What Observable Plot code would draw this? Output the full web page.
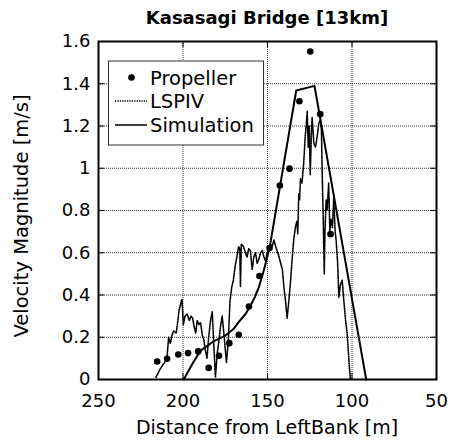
<!DOCTYPE html>
<html>
<head>
<meta charset="utf-8">
<script src="https://cdn.jsdelivr.net/npm/d3@7"></script>
<script src="https://cdn.jsdelivr.net/npm/@observablehq/plot@0.6"></script>
</head>
<body style="margin:0">
<div id="chart" style="position:relative;width:450px;height:441px"></div>
<script>
const title = "Kasasagi Bridge [13km]";
const xLabel = "Distance from LeftBank [m]";
const yLabel = "Velocity Magnitude [m/s]";
const xTicks = [250, 200, 150, 100, 50];
const yTicks = [0, 0.2, 0.4, 0.6, 0.8, 1, 1.2, 1.4, 1.6];
const seriesNames = ["Propeller", "LSPIV", "Simulation"];

// Propeller measurements [distance, velocity]
const propeller = [
  [215.3, 0.085], [209.4, 0.098], [202.8, 0.118], [197.0, 0.125], [191.0, 0.133],
  [184.8, 0.055], [178.7, 0.112], [172.6, 0.172], [167.0, 0.212], [161.0, 0.345],
  [154.8, 0.49], [148.8, 0.622], [142.7, 0.918], [137.0, 0.998], [131.1, 1.317],
  [124.7, 1.553], [118.8, 1.256], [112.7, 0.688]
];

// LSPIV profile [distance, velocity]
const lspiv = [
  [216, 0.01], [213.5, 0.05], [211, 0.08], [209.5, 0.10], [208.5, 0.2], [207.5, 0.17],
  [206.5, 0.21], [205.5, 0.23], [204, 0.22], [203, 0.28], [202.3, 0.33], [201.3, 0.36],
  [200.6, 0.38], [199.8, 0.26], [198.8, 0.30], [197.6, 0.31], [196.3, 0.28], [195.2, 0.30],
  [194.3, 0.29], [193.4, 0.25], [192.5, 0.22], [191.6, 0.28], [190.6, 0.26], [189.6, 0.27],
  [188.6, 0.21], [187.7, 0.19], [186.8, 0.14], [185.8, 0.10], [184.8, 0.20], [183.7, 0.28],
  [182.7, 0.32], [181.7, 0.15], [180.8, 0.01], [179.8, 0.12], [178.8, 0.18], [177.8, 0.25],
  [176.8, 0.30], [175.6, 0.20], [174.3, 0.08], [173.2, 0.18], [172.2, 0.37], [171.1, 0.44],
  [170.2, 0.47], [169.1, 0.54], [168.1, 0.58], [167.1, 0.63], [166.4, 0.62], [166.0, 0.44],
  [165.5, 0.64], [164.2, 0.63], [163.1, 0.60], [162.1, 0.58], [161.1, 0.62], [160.1, 0.61],
  [159.1, 0.52], [158.1, 0.58], [157.1, 0.60], [156.1, 0.55], [155.1, 0.57], [154.1, 0.60],
  [153.1, 0.61], [152.1, 0.58], [151.1, 0.56], [150.2, 0.60], [149.2, 0.62], [148.2, 0.64],
  [147.2, 0.63], [146.2, 0.66], [145.2, 0.63], [143.5, 0.59], [142.2, 0.55], [141.2, 0.52],
  [140.2, 0.43], [139.3, 0.37], [138.4, 0.29], [137.5, 0.36], [136.5, 0.45], [135.5, 0.56],
  [134.5, 0.66], [133.5, 0.72], [132.6, 0.75], [132.1, 0.69], [131.5, 0.88], [131.0, 0.85],
  [130.5, 0.95], [129.6, 0.93], [128.6, 1.02], [127.7, 1.15], [127.1, 1.20], [126.5, 1.27],
  [125.9, 1.10], [125.3, 1.20], [124.7, 0.97], [124.1, 1.15], [123.6, 1.24], [122.6, 1.12],
  [121.6, 1.10], [120.6, 1.15], [119.7, 1.21], [118.7, 1.23], [118.1, 1.18], [117.6, 0.97],
  [117.0, 0.75], [116.4, 0.50], [116.0, 0.70], [115.3, 0.85], [114.7, 0.80], [113.8, 0.93],
  [113.1, 0.70], [112.5, 0.76], [111.6, 0.72], [110.8, 0.86], [110.0, 0.70], [109.4, 0.66],
  [108.5, 0.55], [107.8, 0.39], [106.8, 0.45], [105.8, 0.47], [104.8, 0.37], [103.8, 0.28],
  [102.9, 0.22], [101.9, 0.10], [101.0, 0.0]
];

// Simulation profile [distance, velocity]
const simulation = [
  [199.6, 0], [194, 0.08], [189.6, 0.137], [182, 0.18], [174.9, 0.208], [170, 0.24],
  [167.2, 0.27], [163, 0.31], [160, 0.35], [157.5, 0.39], [155.1, 0.437], [152.2, 0.516],
  [148.8, 0.622], [133, 1.368], [122.2, 1.39], [91.6, 0]
];

const fontFamily = "DejaVu Sans";
const frameOpts = {
  width: 450, height: 441,
  marginLeft: 98, marginRight: 14, marginTop: 41, marginBottom: 62
};
const xDomain = [xTicks[0], xTicks[xTicks.length - 1]];
const yDomain = [yTicks[0], yTicks[yTicks.length - 1]];

// Bottom layer: dotted grid and inward ticks
const gridLayer = Plot.plot({
  ...frameOpts,
  x: {domain: xDomain, axis: null},
  y: {domain: yDomain, axis: null},
  marks: [
    Plot.ruleX(xTicks.slice(1, -1), {x: d => d, stroke: "#333", strokeDasharray: "1,1"}),
    Plot.ruleY(yTicks.slice(1, -1), {y: d => d, stroke: "#333", strokeDasharray: "1,1"}),
    Plot.ruleX(xTicks, {x: d => d, y1: yDomain[0], y2: yDomain[0], insetTop: -6, stroke: "black"}),
    Plot.ruleX(xTicks, {x: d => d, y1: yDomain[1], y2: yDomain[1], insetBottom: -6, stroke: "black"}),
    Plot.ruleY(yTicks, {y: d => d, x1: xDomain[0], x2: xDomain[0], insetRight: -6, stroke: "black"}),
    Plot.ruleY(yTicks, {y: d => d, x1: xDomain[1], x2: xDomain[1], insetLeft: -6, stroke: "black"})
  ]
});

// Top layer: axes, data, frame (transparent background)
const chart = Plot.plot({
  ...frameOpts,
  style: {fontFamily: fontFamily, fontSize: "18px", background: "transparent"},
  x: {domain: xDomain},
  y: {domain: yDomain},
  marks: [
    Plot.axisX({ticks: xTicks, tickSize: 0, tickPadding: 15, tickFormat: d => String(d), label: null, fontSize: 18}),
    Plot.axisY({ticks: yTicks, tickSize: 0, tickPadding: 8, tickFormat: d => String(d), label: null, fontSize: 18}),
    Plot.line(lspiv, {x: d => d[0], y: d => d[1], stroke: "black", strokeWidth: 1.6, strokeDasharray: "1.3,1.1"}),
    Plot.line(simulation, {x: d => d[0], y: d => d[1], stroke: "black", strokeWidth: 2}),
    Plot.dot(propeller, {x: d => d[0], y: d => d[1], r: 3.3, fill: "black", stroke: "none"}),
    Plot.frame({stroke: "black", strokeWidth: 2})
  ]
});

const host = document.getElementById("chart");
[gridLayer, chart].forEach(s => {
  s.style.position = "absolute";
  s.style.left = "0px";
  s.style.top = "0px";
  host.appendChild(s);
});
gridLayer.style.background = "white";
chart.style.background = "transparent";

const svg = d3.select(chart);

// Title
svg.append("text")
  .attr("x", 267).attr("y", 24)
  .attr("text-anchor", "middle")
  .attr("font-family", fontFamily)
  .attr("font-size", 18)
  .attr("font-weight", "bold")
  .text(title);

// X label
svg.append("text")
  .attr("x", 267).attr("y", 434)
  .attr("text-anchor", "middle")
  .attr("font-family", fontFamily)
  .attr("font-size", 19)
  .text(xLabel);

// Y label
svg.append("text")
  .attr("transform", "translate(28,216) rotate(-90)")
  .attr("text-anchor", "middle")
  .attr("font-family", fontFamily)
  .attr("font-size", 19.5)
  .text(yLabel);

// Legend
const lg = svg.append("g").attr("font-family", fontFamily).attr("font-size", 19.5);
lg.append("rect")
  .attr("x", 108.5).attr("y", 61).attr("width", 155).attr("height", 84)
  .attr("fill", "white").attr("stroke", "#333").attr("stroke-width", 1);
const rowsY = [77.5, 101, 125];
lg.append("circle").attr("cx", 131.5).attr("cy", rowsY[0]).attr("r", 3.3).attr("fill", "black");
lg.append("line").attr("x1", 115).attr("x2", 147).attr("y1", rowsY[1]).attr("y2", rowsY[1])
  .attr("stroke", "black").attr("stroke-width", 1.6).attr("stroke-dasharray", "1.3,1.1");
lg.append("line").attr("x1", 115).attr("x2", 147).attr("y1", rowsY[2]).attr("y2", rowsY[2])
  .attr("stroke", "black").attr("stroke-width", 1.5);
seriesNames.forEach((name, i) => {
  lg.append("text").attr("x", 150).attr("y", rowsY[i] + 7)
    .attr("text-anchor", "start").text(name);
});
</script>
</body>
</html>
